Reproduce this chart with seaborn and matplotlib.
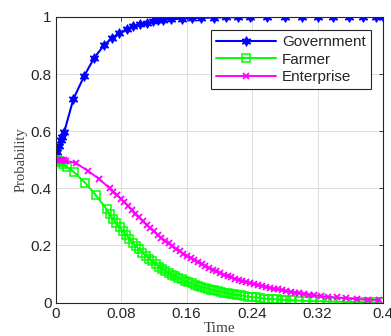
import pandas as pd
import numpy as np
import matplotlib
matplotlib.use('Agg')
import matplotlib.pyplot as plt
import seaborn as sns

# Government
t_gov = [0, 0.002, 0.0044, 0.006, 0.008, 0.0105, 0.0215, 0.0349, 0.0471, 0.0593,
         0.0683, 0.0776, 0.0866, 0.0946, 0.1028, 0.111, 0.119, 0.125, 0.131, 0.1415,
         0.154, 0.166, 0.177, 0.193, 0.208, 0.223, 0.237, 0.258, 0.280, 0.301,
         0.321, 0.339, 0.358, 0.375, 0.392, 0.4]
p_gov = [0.5, 0.526, 0.548, 0.569, 0.581, 0.598, 0.712, 0.794, 0.857, 0.902,
         0.925, 0.944, 0.957, 0.968, 0.974, 0.980, 0.985, 0.988, 0.990, 0.992,
         0.994, 0.996, 0.997, 0.998, 0.999, 0.999, 0.9995, 1.0, 1.0, 1.0,
         1.0, 1.0, 1.0, 1.0, 1.0, 1.0]

# Farmer
t_farm = [0, 0.002, 0.004, 0.006, 0.009, 0.0134, 0.0223, 0.0357, 0.0488,
          0.0622, 0.066, 0.070, 0.074, 0.078, 0.082, 0.086, 0.090, 0.094, 0.098,
          0.102, 0.106, 0.110, 0.114, 0.118, 0.122, 0.126, 0.130, 0.134, 0.138,
          0.142, 0.146, 0.150, 0.154, 0.158, 0.162, 0.166, 0.170, 0.174, 0.178,
          0.182, 0.186, 0.190, 0.194, 0.198, 0.202, 0.206, 0.210, 0.214, 0.218,
          0.222, 0.226, 0.230, 0.235, 0.240, 0.245, 0.250, 0.255, 0.260, 0.265,
          0.270, 0.276, 0.282, 0.2885, 0.297, 0.3055, 0.314, 0.3225, 0.331, 0.3395,
          0.348, 0.3565, 0.365, 0.3735, 0.382, 0.3905, 0.396]
p_farm = [0.5, 0.498, 0.495, 0.491, 0.485, 0.476, 0.457, 0.420, 0.377,
          0.327, 0.310, 0.292, 0.278, 0.265, 0.251, 0.237, 0.223, 0.210, 0.198,
          0.187, 0.175, 0.164, 0.154, 0.145, 0.135, 0.126, 0.118, 0.111, 0.104,
          0.097, 0.092, 0.087, 0.082, 0.076, 0.071, 0.067, 0.063, 0.059, 0.055,
          0.052, 0.049, 0.045, 0.043, 0.040, 0.038, 0.035, 0.033, 0.031, 0.029,
          0.027, 0.025, 0.023, 0.021, 0.019, 0.018, 0.016, 0.014, 0.013, 0.012,
          0.011, 0.010, 0.009, 0.008, 0.007, 0.006, 0.005, 0.005, 0.004, 0.003,
          0.003, 0.002, 0.002, 0.002, 0.001, 0.001, 0.001]

# Enterprise
t_ent = [0, 0.002, 0.004, 0.006, 0.008, 0.0105, 0.0125, 0.0248, 0.039, 0.053,
         0.066, 0.0705, 0.075, 0.0795, 0.084, 0.0885, 0.093, 0.0975, 0.102, 0.1065,
         0.111, 0.1155, 0.120, 0.1245, 0.129, 0.1335, 0.138, 0.1425, 0.147, 0.1515,
         0.156, 0.1605, 0.165, 0.1695, 0.174, 0.1785, 0.183, 0.1875, 0.192, 0.1965,
         0.201, 0.2055, 0.210, 0.2145, 0.219, 0.2235, 0.228, 0.2325, 0.237, 0.242,
         0.247, 0.252, 0.257, 0.262, 0.267, 0.272, 0.277, 0.282, 0.287, 0.292,
         0.297, 0.303, 0.309, 0.316, 0.324, 0.333, 0.344, 0.355, 0.368, 0.382, 0.3955]
p_ent = [0.5, 0.5, 0.5, 0.4995, 0.499, 0.498, 0.497, 0.488, 0.462, 0.433,
         0.400, 0.388, 0.376, 0.364, 0.352, 0.339, 0.325, 0.311, 0.298, 0.285,
         0.272, 0.260, 0.249, 0.237, 0.227, 0.217, 0.207, 0.197, 0.188, 0.180,
         0.171, 0.163, 0.156, 0.148, 0.141, 0.134, 0.128, 0.121, 0.115, 0.109,
         0.104, 0.098, 0.093, 0.089, 0.084, 0.079, 0.075, 0.071, 0.067, 0.064,
         0.061, 0.058, 0.055, 0.052, 0.049, 0.046, 0.043, 0.040, 0.038, 0.035,
         0.033, 0.030, 0.028, 0.026, 0.023, 0.020, 0.018, 0.015, 0.012, 0.010, 0.009]

x_ticks = [0, 0.08, 0.16, 0.24, 0.32, 0.4]
x_ticklabels = ['0', '0.08', '0.16', '0.24', '0.32', '0.4']
y_ticks = [0, 0.2, 0.4, 0.6, 0.8, 1]
y_ticklabels = ['0', '0.2', '0.4', '0.6', '0.8', '1']

sns.set_theme(style='white')
plt.rcParams['font.family'] = ['Liberation Sans', 'DejaVu Sans']
plt.rcParams['xtick.direction'] = 'in'
plt.rcParams['ytick.direction'] = 'in'

fig = plt.figure(figsize=(3.91, 3.36), dpi=100)
ax = fig.add_axes([0.1425, 0.0995, 0.837, 0.850])

gov = pd.DataFrame({'Time': t_gov, 'Probability': p_gov})
farm = pd.DataFrame({'Time': t_farm, 'Probability': p_farm})
ent = pd.DataFrame({'Time': t_ent, 'Probability': p_ent})

sns.lineplot(data=gov, x='Time', y='Probability', ax=ax, color=(0, 0, 1), lw=1.5,
             marker=(6, 1, 0), markersize=7, markeredgecolor=(0, 0, 1),
             markerfacecolor=(0, 0, 1), markeredgewidth=0.8, label='Government')
sns.lineplot(data=farm, x='Time', y='Probability', ax=ax, color=(0, 1, 0), lw=1.4,
             marker='s', markersize=6, markerfacecolor='none', markeredgecolor=(0, 1, 0),
             markeredgewidth=1.1, label='Farmer')
sns.lineplot(data=ent, x='Time', y='Probability', ax=ax, color=(1, 0, 1), lw=1.4,
             marker='x', markersize=5, markeredgecolor=(1, 0, 1), markeredgewidth=1.3,
             label='Enterprise')

ax.set_xlim(0, 0.4)
ax.set_ylim(0, 1)
ax.set_xticks(x_ticks)
ax.set_xticklabels(x_ticklabels)
ax.set_yticks(y_ticks)
ax.set_yticklabels(y_ticklabels)
ax.tick_params(axis='both', which='both', direction='in', length=3, width=0.6,
               labelsize=11, colors='#262626', top=True, right=True, pad=3)
ax.grid(True, color='#dcdcdc', lw=0.7)
for s in ax.spines.values():
    s.set_color('#262626')
    s.set_linewidth(0.8)

ax.set_xlabel('Time', family='Liberation Serif', fontsize=11, color='#404040', labelpad=1)
ax.set_ylabel('Probability', family='Liberation Serif', fontsize=10.5, color='#404040', labelpad=2)

leg = ax.legend(loc='upper right', bbox_to_anchor=(0.963, 0.955), fontsize=11,
                frameon=True, fancybox=False, edgecolor='#262626', framealpha=1,
                handlelength=3.9, borderpad=0.35, labelspacing=0.22, handletextpad=0.4,
                borderaxespad=0)
leg.get_frame().set_linewidth(0.8)

fig.savefig('out.png', dpi=100)
